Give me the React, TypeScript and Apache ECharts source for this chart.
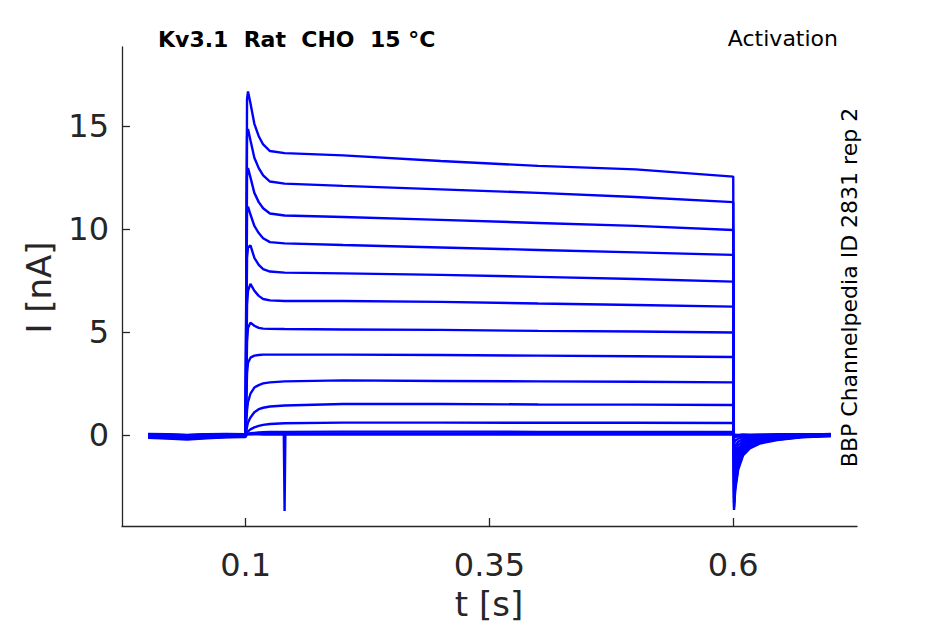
import React, { useEffect, useRef } from "react";
import * as echarts from "echarts";

// time points [s]: pre-pulse baseline, pulse, tail
const TIME = [
  0, 0.02, 0.04, 0.06, 0.08, 0.1,
  0.1015, 0.1025, 0.105, 0.109, 0.1135, 0.118, 0.125, 0.14, 0.2, 0.3, 0.4, 0.5, 0.6,
  0.6008, 0.602, 0.605, 0.61, 0.617, 0.627, 0.645, 0.67, 0.7,
];

// current traces [nA], one per voltage step
const TRACE_01 = [-0.05, -0.08, -0.1, -0.06, -0.04, -0.02, 16.3, 16.67, 16.1, 15.1, 14.5, 14.1, 13.78, 13.68, 13.57, 13.3, 13.06, 12.89, 12.54, -3.64, -2.7, -1.7, -1.0, -0.65, -0.42, -0.25, -0.12, -0.05];
const TRACE_02 = [0.02, -0.02, -0.05, 0.0, 0.02, 0.0, 14.5, 14.85, 14.3, 13.45, 12.95, 12.6, 12.3, 12.2, 12.09, 11.92, 11.75, 11.55, 11.3, -3.5, -2.55, -1.6, -0.92, -0.6, -0.38, -0.22, -0.1, -0.02];
const TRACE_03 = [-0.12, -0.15, -0.19, -0.14, -0.1, -0.08, 12.6, 12.95, 12.5, 11.75, 11.3, 11.0, 10.75, 10.65, 10.58, 10.44, 10.29, 10.15, 9.95, -3.3, -2.4, -1.45, -0.85, -0.55, -0.35, -0.2, -0.09, -0.06];
const TRACE_04 = [-0.02, -0.06, -0.08, -0.04, -0.03, -0.01, 10.8, 11.08, 10.7, 10.15, 9.8, 9.55, 9.36, 9.3, 9.22, 9.1, 8.98, 8.86, 8.74, -3.05, -2.2, -1.3, -0.78, -0.5, -0.32, -0.18, -0.08, 0.0];
const TRACE_05 = [0.04, 0.02, -0.01, 0.03, 0.04, 0.03, 8.6, 9.1, 9.2, 8.6, 8.25, 8.05, 7.93, 7.88, 7.84, 7.77, 7.67, 7.57, 7.44, -2.75, -1.95, -1.15, -0.7, -0.45, -0.28, -0.16, -0.07, -0.03];
const TRACE_06 = [-0.08, -0.1, -0.14, -0.1, -0.07, -0.05, 6.3, 7.0, 7.33, 7.0, 6.75, 6.6, 6.53, 6.5, 6.5, 6.46, 6.38, 6.31, 6.23, -2.4, -1.7, -1.0, -0.6, -0.39, -0.24, -0.14, -0.06, 0.02];
const TRACE_07 = [0.0, -0.03, -0.06, -0.02, 0.0, 0.01, 4.5, 5.2, 5.45, 5.3, 5.2, 5.16, 5.15, 5.14, 5.12, 5.1, 5.05, 5.02, 4.97, -2.0, -1.4, -0.85, -0.5, -0.33, -0.2, -0.12, -0.05, -0.04];
const TRACE_08 = [-0.1, -0.12, -0.16, -0.12, -0.09, -0.06, 3.0, 3.5, 3.75, 3.85, 3.88, 3.9, 3.9, 3.9, 3.9, 3.88, 3.85, 3.82, 3.78, -1.6, -1.1, -0.68, -0.4, -0.27, -0.16, -0.1, -0.04, 0.03];
const TRACE_09 = [0.03, 0.0, -0.03, 0.01, 0.03, 0.02, 1.2, 1.6, 2.0, 2.3, 2.42, 2.5, 2.55, 2.6, 2.65, 2.62, 2.6, 2.58, 2.55, -1.2, -0.8, -0.5, -0.3, -0.2, -0.12, -0.07, -0.03, -0.01];
const TRACE_10 = [-0.06, -0.09, -0.12, -0.08, -0.06, -0.04, 0.4, 0.6, 0.85, 1.1, 1.25, 1.32, 1.38, 1.43, 1.5, 1.5, 1.48, 1.47, 1.45, -0.8, -0.55, -0.33, -0.2, -0.14, -0.08, -0.05, -0.02, 0.04];
const TRACE_11 = [0.01, -0.01, -0.04, 0.0, 0.01, 0.0, 0.1, 0.17, 0.27, 0.37, 0.44, 0.49, 0.53, 0.57, 0.6, 0.6, 0.59, 0.59, 0.58, -0.4, -0.28, -0.18, -0.11, -0.08, -0.05, -0.03, -0.01, -0.02];
const TRACE_12 = [-0.14, -0.17, -0.22, -0.16, -0.12, -0.1, 0.05, 0.06, 0.08, 0.1, 0.12, 0.13, 0.14, 0.15, 0.16, 0.16, 0.15, 0.15, 0.15, -0.15, -0.1, -0.07, -0.05, -0.04, -0.03, -0.02, 0.0, 0.02];
const TRACE_13 = [-0.03, -0.05, -0.09, -0.05, -0.03, -0.02, 0.02, 0.03, 0.04, 0.05, 0.05, 0.05, 0.06, 0.06, 0.07, 0.07, 0.06, 0.06, 0.06, -0.05, -0.04, -0.03, -0.03, -0.02, -0.02, -0.01, 0.0, 0.05];
const TRACE_14 = [0.05, 0.03, 0.0, 0.04, 0.05, 0.04, 0.04, 0.04, 0.03, 0.03, 0.03, 0.02, 0.02, 0.02, 0.02, 0.03, 0.02, 0.02, 0.02, 0.0, 0.01, 0.0, 0.02, 0.01, 0.02, 0.03, 0.04, 0.03];

const TRACES = [
  TRACE_01, TRACE_02, TRACE_03, TRACE_04, TRACE_05, TRACE_06, TRACE_07,
  TRACE_08, TRACE_09, TRACE_10, TRACE_11, TRACE_12, TRACE_13, TRACE_14,
];

// capacitive artefact on one trace
const SPIKE_TIME = [0.1392, 0.14, 0.1408];
const SPIKE_VALUE = [0.05, -3.69, 0.05];

const X_TICKS = [0.1, 0.35, 0.6];
const Y_TICKS = [0, 5, 10, 15];

const TITLE = "Kv3.1  Rat  CHO  15 °C";
const SUBTITLE = "Activation";
const SIDE_NOTE = "BBP Channelpedia ID 2831 rep 2";
const X_NAME = "t [s]";
const Y_NAME = "I [nA]";

const FONT = '"DejaVu Sans", Verdana, sans-serif';
const AXIS_COLOR = "#262626";
const TRACE_COLOR = "#0000ff";

export default function App() {
  const ref = useRef<HTMLDivElement>(null);

  useEffect(() => {
    if (!ref.current) return;
    const chart = echarts.init(ref.current, null, { renderer: "svg" });

    const lineSeries = (name: string, data: number[][]) => ({
      type: "line",
      name,
      data,
      showSymbol: false,
      symbol: "none",
      silent: true,
      lineStyle: { color: TRACE_COLOR, width: 2.4 },
      emphasis: { disabled: true },
    });

    const series: any[] = TRACES.map((vals, k) =>
      lineSeries("trace " + (k + 1), TIME.map((t, i) => [t, vals[i]]))
    );
    series.push(lineSeries("artefact", SPIKE_TIME.map((t, i) => [t, SPIKE_VALUE[i]])));

    const axisLine = { show: true, onZero: false, lineStyle: { color: AXIS_COLOR, width: 1.3 } };
    const axisTickStyle = { color: AXIS_COLOR, width: 1.3 };

    chart.setOption({
      animation: false,
      backgroundColor: "#ffffff",
      grid: { left: 122, right: 88, top: 47, bottom: 98, containLabel: false },
      xAxis: {
        type: "value",
        min: -0.0267,
        max: 0.7269,
        axisLine,
        splitLine: { show: false },
        axisTick: { show: true, inside: true, length: 8, customValues: X_TICKS, lineStyle: axisTickStyle },
        axisLabel: {
          customValues: X_TICKS,
          formatter: (v: number) => String(v),
          color: AXIS_COLOR,
          fontFamily: FONT,
          fontSize: 32,
          margin: 23,
        },
      },
      yAxis: {
        type: "value",
        min: -4.42,
        max: 18.83,
        axisLine,
        splitLine: { show: false },
        axisTick: { show: true, inside: true, length: 8, customValues: Y_TICKS, lineStyle: axisTickStyle },
        axisLabel: {
          customValues: Y_TICKS,
          formatter: (v: number) => String(v),
          color: AXIS_COLOR,
          fontFamily: FONT,
          fontSize: 32,
          margin: 13,
        },
      },
      graphic: [
        {
          type: "text",
          x: 158,
          y: 39.5,
          style: {
            text: TITLE,
            font: "bold 22px " + FONT,
            fill: "#000000",
            align: "left",
            textAlign: "left",
            verticalAlign: "middle",
            textVerticalAlign: "middle",
          },
        },
        {
          type: "text",
          x: 838,
          y: 38.5,
          style: {
            text: SUBTITLE,
            font: "22px " + FONT,
            fill: "#000000",
            align: "right",
            textAlign: "right",
            verticalAlign: "middle",
            textVerticalAlign: "middle",
          },
        },
        {
          type: "text",
          x: 849,
          y: 287.5,
          rotation: Math.PI / 2,
          style: {
            text: SIDE_NOTE,
            font: "22px " + FONT,
            fill: "#000000",
            align: "center",
            textAlign: "center",
            verticalAlign: "middle",
            textVerticalAlign: "middle",
          },
        },
        {
          type: "text",
          x: 489,
          y: 604,
          style: {
            text: X_NAME,
            font: "34px " + FONT,
            fill: AXIS_COLOR,
            align: "center",
            textAlign: "center",
            verticalAlign: "middle",
            textVerticalAlign: "middle",
          },
        },
        {
          type: "text",
          x: 39,
          y: 287.5,
          rotation: Math.PI / 2,
          style: {
            text: Y_NAME,
            font: "34px " + FONT,
            fill: AXIS_COLOR,
            align: "center",
            textAlign: "center",
            verticalAlign: "middle",
            textVerticalAlign: "middle",
          },
        },
      ],
      series,
    });

    return () => chart.dispose();
  }, []);

  return (
    <div
      ref={ref}
      style={{ position: "fixed", left: 0, top: 0, width: 945, height: 624, background: "#ffffff" }}
    />
  );
}
